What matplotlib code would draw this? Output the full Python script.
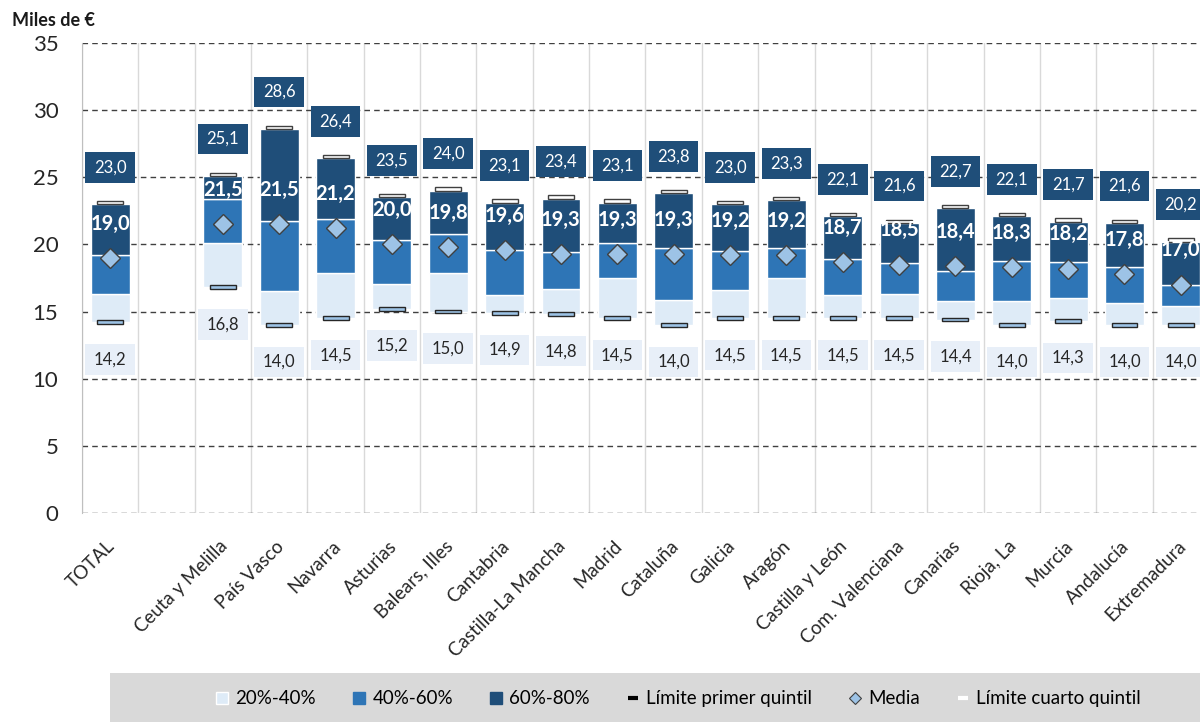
import numpy as np
import matplotlib
matplotlib.use("Agg")
import matplotlib.pyplot as plt
from matplotlib.lines import Line2D
from matplotlib.patches import Rectangle
import matplotlib.transforms as mtransforms

plt.rcParams['font.family'] = ['Lato', 'DejaVu Sans']

regiones = ["TOTAL", "Ceuta y Melilla", "País Vasco", "Navarra", "Asturias",
            "Balears, Illes", "Cantabria", "Castilla-La Mancha", "Madrid",
            "Cataluña", "Galicia", "Aragón", "Castilla y León",
            "Com. Valenciana", "Canarias", "Rioja, La", "Murcia",
            "Andalucía", "Extremadura"]
p20 = [14.2, 16.8, 14.0, 14.5, 15.2, 15.0, 14.9, 14.8, 14.5, 14.0,
       14.5, 14.5, 14.5, 14.5, 14.4, 14.0, 14.3, 14.0, 14.0]
p40 = [16.3, 20.1, 16.5, 17.85, 17.05, 17.9, 16.2, 16.7, 17.5, 15.85,
       16.6, 17.5, 16.2, 16.3, 15.8, 15.8, 16.0, 15.65, 15.4]
p60 = [19.2, 23.4, 21.75, 21.9, 20.3, 20.75, 19.6, 19.4, 20.1, 19.7,
       19.5, 19.7, 18.9, 18.6, 18.0, 18.75, 18.7, 18.35, 17.0]
p80 = [23.0, 25.1, 28.6, 26.4, 23.5, 24.0, 23.1, 23.4, 23.1, 23.8,
       23.0, 23.3, 22.1, 21.6, 22.7, 22.1, 21.7, 21.6, 20.2]
media = [19.0, 21.5, 21.5, 21.2, 20.0, 19.8, 19.6, 19.3, 19.3, 19.3,
         19.2, 19.2, 18.7, 18.5, 18.4, 18.3, 18.2, 17.8, 17.0]

c_light = "#DEEBF7"
c_mid = "#2E75B6"
c_dark = "#1F4E79"
c_diam = "#9DC3E6"
c_lab = "#E8EFF8"

p20 = np.array(p20); p40 = np.array(p40); p60 = np.array(p60)
p80 = np.array(p80); media = np.array(media)
# hueco entre TOTAL y las comunidades
x = np.array([0] + list(range(2, len(regiones) + 1)))

fig = plt.figure(figsize=(12, 7.22), dpi=100)
ax = fig.add_axes([0.0683, 0.2895, 0.9392, 0.651])

# rejilla
for yv in range(0, 36, 5):
    ax.axhline(yv, color="#404040", lw=1, ls=(0, (4, 3)), zorder=1)
for xv in np.arange(-0.5, 20, 1):
    ax.plot([xv, xv], [0, 35], color="#D9D9D9", lw=1, zorder=0)

# cajas
w = 0.69
ax.bar(x, p40 - p20, bottom=p20, width=w, color=c_light, edgecolor="white", lw=1, zorder=2)
ax.bar(x, p60 - p40, bottom=p40, width=w, color=c_mid, edgecolor="white", lw=1, zorder=2)
ax.bar(x, p80 - p60, bottom=p60, width=w, color=c_dark, edgecolor="white", lw=1, zorder=2)

# limites de quintil
ax.bar(x, 0.28, bottom=p20 - 0.14, width=0.46, color=c_diam, edgecolor="#262626", lw=1, zorder=4)
ax.bar(x, 0.25, bottom=p80, width=0.46, color="white", edgecolor="#404040", lw=1, zorder=4)

# media
ax.plot(x, media, "D", ms=10, mfc=c_diam, mec="#404040", mew=1, zorder=5)

# etiquetas
ax.bar(x, 2.3, bottom=p80 + 2.75 - 1.15, width=0.88, color=c_dark, zorder=3)
ax.bar(x, 2.28, bottom=p20 - 2.75 - 1.14, width=0.88, color=c_lab, zorder=3)
for xi, a, b, m in zip(x, p20, p80, media):
    ax.text(xi, b + 2.75, f"{b:.1f}".replace(".", ","), ha="center", va="center",
            color="white", fontsize=12, zorder=6)
    ax.text(xi, a - 2.75, f"{a:.1f}".replace(".", ","), ha="center", va="center",
            color="#262626", fontsize=12, zorder=6)
    ax.text(xi, m + 2.55, f"{m:.1f}".replace(".", ","), ha="center", va="center",
            color="white", fontsize=14.5, fontweight="bold", zorder=6)

ax.set_xlim(-0.5, 19.5)
ax.set_ylim(0, 35)
ax.set_yticks(range(0, 36, 5))
ax.tick_params(axis="y", length=0, pad=17, labelsize=16, labelcolor="#262626")
ax.set_xticks(x)
ax.set_xticklabels(regiones, rotation=45, ha="right", va="center",
                   rotation_mode="anchor", fontsize=13.5, color="#262626")
ax.tick_params(axis="x", length=0, pad=22)
off = mtransforms.ScaledTranslation(2 / 100, 0, fig.dpi_scale_trans)
for lab in ax.get_xticklabels():
    lab.set_transform(lab.get_transform() + off)
for s in ["top", "right", "bottom"]:
    ax.spines[s].set_visible(False)
ax.spines["left"].set_color("#BFBFBF")

fig.text(12 / 1200, 1 - 20 / 722, "Miles de €", fontsize=13, fontweight="bold",
         va="center", ha="left", color="#1a1a1a")

# leyenda
fig.patches.append(Rectangle((110 / 1200, 0), 1.0, 49 / 722, transform=fig.transFigure,
                             facecolor="#D9D9D9", edgecolor="none", zorder=0))
handles = [
    Line2D([], [], ls="none", marker="s", ms=8, mfc=c_light, mec="white"),
    Line2D([], [], ls="none", marker="s", ms=8, mfc=c_mid, mec=c_mid),
    Line2D([], [], ls="none", marker="s", ms=8, mfc=c_dark, mec=c_dark),
    Line2D([], [], ls="none", marker="_", ms=7, mew=3, color="black"),
    Line2D([], [], ls="none", marker="D", ms=6, mfc=c_diam, mec="#404040", mew=0.8),
    Line2D([], [], ls="none", marker="_", ms=7, mew=3, color="white"),
]
labels = ["20%-40%", "40%-60%", "60%-80%", "Límite primer quintil", "Media",
          "Límite cuarto quintil"]
fig.legend(handles, labels, loc="center", bbox_to_anchor=(0.565, 0.032), ncol=6,
           frameon=False, prop={"size": 13.5},
           handlelength=0.8, handletextpad=0.3, columnspacing=1.9)

fig.savefig("out.png", dpi=100)
